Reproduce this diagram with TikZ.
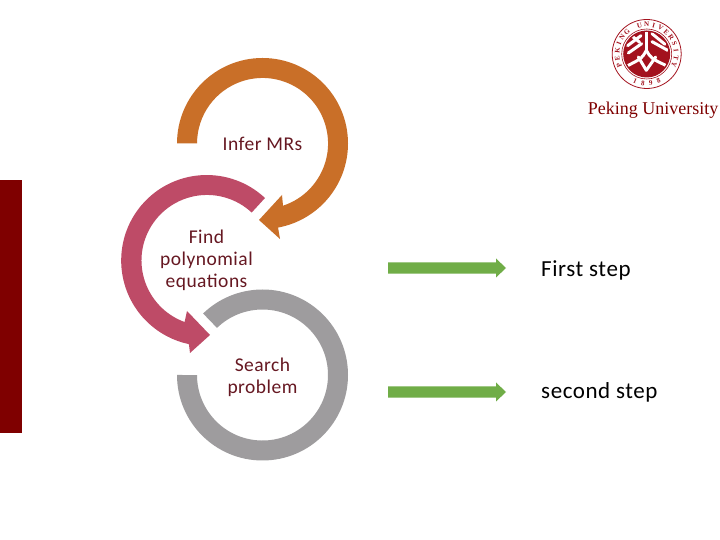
\documentclass[tikz,border=0pt]{standalone}
\usepackage{fontspec}
\setmainfont{Carlito}[LetterSpace=2.5]
\newfontfamily\serifl{Liberation Serif}
\usetikzlibrary{calc}
\definecolor{ringorange}{HTML}{C96F28}
\definecolor{ringred}{HTML}{BE4B67}
\definecolor{ringgray}{HTML}{9E9C9E}
\definecolor{barred}{HTML}{7F0000}
\definecolor{arrowgreen}{HTML}{70AD47}
\definecolor{labelred}{HTML}{661822}
\definecolor{sealred}{HTML}{A3121E}
\tikzset{
  x=1pt,y=1pt,
  ringlabel/.style={text=labelred,font=\fontsize{19.5}{22}\selectfont,align=center,inner sep=0pt},
  steplabel/.style={text=black,font=\fontsize{23}{26}\selectfont,anchor=west,inner sep=0pt},
  sealstroke/.style={white,line width=3pt,line cap=round},
  sealletter/.style={text=sealred,font=\serifl\bfseries\fontsize{7}{8}\selectfont,inner sep=0pt}
}
\newcommand{\greenarrow}[1]{%
  \fill[arrowgreen] (388,#1+5.6) -- (496,#1+5.6) -- (496,#1+9.5) -- (506,#1) -- (496,#1-9.5) -- (496,#1-5.6) -- (388,#1-5.6) -- cycle;}
\begin{document}
\begin{tikzpicture}
\useasboundingbox (0,0) rectangle (720,540);
\fill[white] (0,0) rectangle (720,540);
\fill[barred] (0,107) rectangle (22,360);
% orange ring
\fill[ringorange] (177,396.5) arc[start angle=180,end angle=-79.5,radius=85.5]
  -- (280,301) -- (259,320) -- (282,345) -- (283,334.3)
  arc[start angle=-71.8,end angle=180,radius=65.5] -- cycle;
% red ring
\fill[ringred] (265,342) arc[start angle=47,end angle=258,radius=85.5]
  -- (190,187) -- (210,205) -- (187,229) -- (184.6,218)
  arc[start angle=250,end angle=47,radius=65.5] -- cycle;
% gray ring
\fill[ringgray] (177,165) arc[start angle=180,end angle=494,radius=85.5]
  -- (217,212.1) arc[start angle=134,end angle=-180,radius=65.5] -- cycle;
\node[ringlabel] (infer) at (262.5,396.5) {Infer MRs};
\node[ringlabel] (find) at (206.5,279.5) {Find\\polynomial\\equations};
\node[ringlabel] (search) at (262.5,163) {Search\\problem};
\greenarrow{272}
\greenarrow{148}
\node[steplabel] (first) at (541,270) {First step};
\node[steplabel] (second) at (541,148) {second step};
% seal
\draw[sealred,line width=0.8pt] (646.7,486) circle[radius=34.5];
\draw[sealred,line width=0.6pt] (646.7,486) circle[radius=25];
\fill[sealred] (646.7,486) circle[radius=23.5];
\foreach \letter [count=\i from 0] in {P,E,K,I,N,G,{},U,N,I,V,E,R,S,I,T,Y}{
  \pgfmathsetmacro{\ang}{202-\i*14}
  \node[sealletter,rotate=\ang-90] at ($(646.7,486)+(\ang:29.6)$) {\letter};
}
\foreach \letter [count=\i from 0] in {1,8,9,8}{
  \pgfmathsetmacro{\ang}{247+\i*15.5}
  \node[sealletter,rotate=\ang+90] at ($(646.7,486)+(\ang:29.6)$) {\letter};
}
% seal figure
\begin{scope}[shift={(607,525)},x=0.3333pt,y=-0.3333pt]
  \clip (119.1,117) circle[radius=66];
  \draw[sealstroke] (118,48) -- (118,106);
  \draw[sealstroke] (62,92) -- (102,62);
  \draw[sealstroke] (64,114) -- (104,86);
  \draw[sealstroke] (76,64) -- (98,82);
  \draw[sealstroke] (135,56) -- (174,88);
  \draw[sealstroke] (135,80) -- (182,106);
  \draw[sealstroke] (118,106) .. controls (105,130) .. (62,152);
  \draw[sealstroke] (118,106) .. controls (132,130) .. (178,152);
  \draw[sealstroke] (94,126) -- (118,166);
  \draw[sealstroke] (146,126) -- (118,166);
\end{scope}
\node[text=barred,font=\serifl\fontsize{18}{20}\selectfont,inner sep=0pt] (pku) at (653,430) {Peking University};
\end{tikzpicture}
\end{document}
